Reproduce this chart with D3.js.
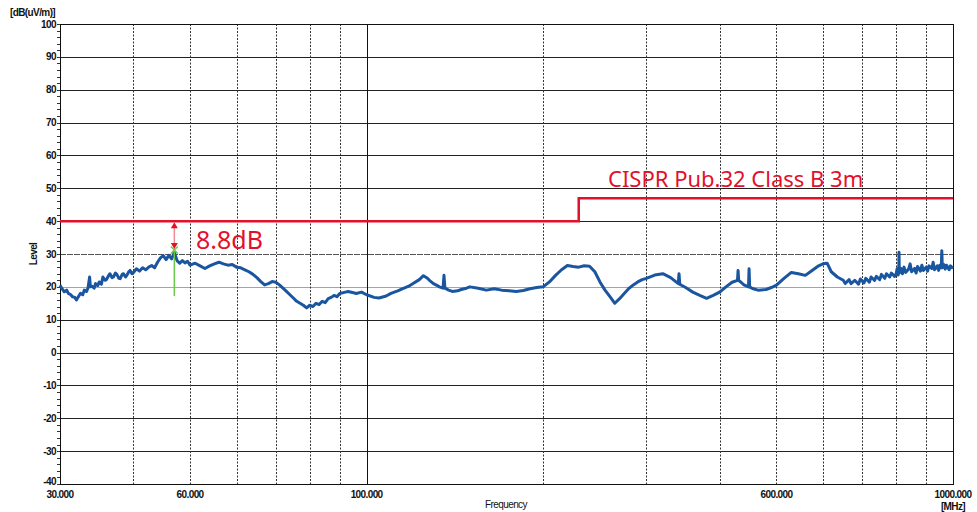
<!DOCTYPE html>
<html>
<head>
<meta charset="utf-8">
<script src="https://cdn.jsdelivr.net/npm/d3@7"></script>
<style>
  body { margin: 0; background: #fff; }
  svg { display: block; }
  .tick-label { font-family: "Liberation Sans", Arial, sans-serif; font-size: 10px; font-weight: bold; fill: #111; letter-spacing: -0.6px; }
</style>
</head>
<body>
<script>
const traceReadings = [
  [30, 20.5], [30.3, 19.2], [30.5, 18.5], [30.8, 19.0], [31, 18.0], [31.3, 17.6], [31.5, 17.0], [31.8, 16.8],
  [32, 16.0], [32.3, 17.2], [32.5, 18.0], [32.8, 17.6], [33, 19.0], [33.3, 18.6], [33.5, 19.8], [33.7, 23.0],
  [33.8, 20.0], [34, 20.2], [34.3, 19.6], [34.5, 21.0], [34.8, 20.4], [35, 21.5], [35.3, 20.8], [35.5, 23.0],
  [35.8, 22.0], [36, 22.2], [36.3, 23.4], [36.5, 24.0], [36.8, 22.8], [37, 23.0], [37.3, 24.2], [37.5, 23.8],
  [37.8, 22.6], [38, 22.5], [38.3, 23.8], [38.5, 24.0], [38.8, 23.0], [39, 23.5], [39.3, 24.6], [39.5, 25.0],
  [39.8, 24.0], [40, 24.3], [40.5, 25.5], [41, 24.8], [41.5, 25.8], [42, 25.2], [42.5, 26.0], [43, 26.5],
  [43.5, 25.8], [44, 27.5], [44.5, 28.8], [45, 29.5], [45.5, 28.3], [46, 29.6], [46.5, 28.5], [47, 30.5],
  [47.5, 28.0], [48, 27.2], [48.5, 28.0], [49, 27.3], [49.5, 27.8], [50, 26.6], [51, 27.2], [52, 26.4],
  [53, 25.6], [54, 26.4], [55, 27.0], [56, 27.5], [57, 27.0], [58, 26.6], [59, 26.8], [60, 26.0],
  [61, 25.8], [62, 25.2], [63, 24.6], [64, 23.8], [65, 22.8], [66, 21.6], [67, 20.6], [68, 21.0],
  [69, 21.6], [70, 21.4], [71, 20.6], [72, 19.6], [73, 18.6], [74, 17.6], [75, 16.6], [76, 15.6],
  [77, 15.0], [78, 14.4], [79, 13.6], [80, 14.4], [81, 14.0], [82, 15.0], [83, 14.6], [84, 15.6],
  [85, 15.2], [86, 16.4], [87, 16.8], [88, 17.4], [89, 17.0], [90, 18.0], [92, 18.4], [93, 18.6],
  [95, 18.2], [96, 18.0], [98, 18.4], [100, 17.6], [103, 16.8], [105, 16.6], [108, 17.2], [110, 18.0],
  [113, 18.8], [115, 19.4], [118, 20.2], [120, 21.0], [123, 22.2], [125, 23.4], [127, 22.6], [128, 22.0],
  [130, 21.0], [132, 20.4], [133, 20.0], [135, 19.6], [135.5, 23.5], [136, 19.6], [138, 19.0], [140, 18.6],
  [143, 18.8], [145, 19.2], [148, 19.6], [150, 20.0], [155, 19.6], [160, 19.0], [165, 19.4], [170, 19.0],
  [175, 18.8], [180, 18.6], [185, 18.9], [190, 19.4], [195, 19.8], [200, 20.0], [205, 21.5], [210, 23.5],
  [215, 25.2], [220, 26.5], [225, 26.2], [230, 26.0], [235, 26.4], [240, 26.3], [245, 24.6], [250, 21.5],
  [255, 19.0], [260, 17.0], [265, 15.0], [270, 16.4], [275, 18.0], [280, 19.5], [285, 20.6], [290, 21.5],
  [295, 22.2], [300, 22.6], [310, 23.6], [320, 24.0], [330, 22.8], [340, 21.0], [341, 24.0], [342, 20.8],
  [345, 20.4], [350, 19.8], [360, 18.4], [370, 17.4], [380, 16.5], [390, 17.4], [400, 18.4], [410, 20.0],
  [420, 21.4], [429, 22.0], [430, 25.0], [431, 22.0], [435, 21.4], [440, 20.6], [448, 20.0], [449, 25.5],
  [450, 20.0], [455, 19.5], [465, 19.0], [480, 19.2], [490, 19.8], [500, 20.5], [515, 22.6], [530, 24.4],
  [545, 24.0], [560, 23.5], [575, 25.0], [590, 26.4], [600, 27.0], [610, 27.2], [620, 24.6], [635, 23.0],
  [650, 22.0], [655, 21.0], [665, 22.2], [670, 21.0], [680, 22.0], [690, 20.8], [695, 22.4], [705, 21.2],
  [710, 22.6], [720, 21.4], [725, 23.0], [735, 22.0], [740, 23.2], [750, 22.2], [755, 23.8], [765, 22.6],
  [770, 24.0], [780, 23.0], [785, 24.2], [795, 23.2], [800, 24.0], [803, 25.5], [806, 23.6], [808, 24.2],
  [809, 30.5], [810, 24.2], [815, 25.6], [820, 24.0], [825, 26.0], [830, 24.4], [840, 25.4], [845, 27.0],
  [850, 24.6], [860, 25.6], [865, 24.2], [870, 26.2], [880, 24.8], [885, 26.6], [890, 25.0], [900, 26.0],
  [905, 24.8], [910, 26.4], [920, 25.6], [925, 27.5], [930, 25.2], [940, 26.4], [945, 25.0], [950, 26.6],
  [955, 25.8], [957, 31.0], [959, 25.8], [965, 26.8], [970, 25.4], [975, 26.6], [985, 25.2], [990, 26.4],
  [1000, 25.6]
];

// limit line: CISPR Pub.32 Class B 3m
const limitFreqs = [30, 230, 230, 1000];
const limitLevels = [40, 40, 47, 47];
const limitName = "CISPR Pub.32 Class B 3m";

// peak marker
const markerFreq = 47;
const markerLevel = 31.2;
const markerLow = 17.2;
const margin = 8.8;

// axis ticks
const yTicks = [-40, -30, -20, -10, 0, 10, 20, 30, 40, 50, 60, 70, 80, 90, 100];
const xGrid = [40, 50, 60, 70, 80, 90, 100, 200, 300, 400, 500, 600, 700, 800, 900];
const xLabelFreqs = [30, 50, 100, 500, 1000];
const xLabels = ["30.000", "60.000", "100.000", "600.000", "1000.000"];

const width = 977, height = 512;
const plotLeft = 60, plotRight = 953, plotTop = 24, plotBottom = 484;

const svg = d3.create("svg")
  .attr("width", width)
  .attr("height", height)
  .attr("viewBox", `0 0 ${width} ${height}`);

const x = d3.scaleLog().domain([30, 1000]).range([plotLeft, plotRight]);
const y = d3.scaleLinear().domain([-40, 100]).range([plotBottom, plotTop]);

// horizontal grid
svg.append("g")
  .selectAll("line")
  .data(yTicks)
  .join("line")
  .attr("x1", plotLeft).attr("x2", plotRight)
  .attr("y1", d => Math.round(y(d)) + 0.5).attr("y2", d => Math.round(y(d)) + 0.5)
  .attr("stroke", d => d === 20 ? "#93a7bd" : (d === 30 ? "#555" : "#222"))
  .attr("stroke-dasharray", d => d === 30 ? "6,1" : null)
  .attr("stroke-width", 1);

// vertical grid
svg.append("g")
  .selectAll("line")
  .data(xGrid)
  .join("line")
  .attr("x1", d => Math.round(x(d)) + 0.5).attr("x2", d => Math.round(x(d)) + 0.5)
  .attr("y1", plotTop).attr("y2", plotBottom)
  .attr("stroke", d => d === 100 ? "#111" : "#333")
  .attr("stroke-dasharray", d => d === 100 ? null : "2,1.5")
  .attr("stroke-width", 1);

// frame
svg.append("rect")
  .attr("x", plotLeft + 0.5).attr("y", plotTop + 0.5)
  .attr("width", plotRight - plotLeft).attr("height", plotBottom - plotTop)
  .attr("fill", "none").attr("stroke", "#111").attr("stroke-width", 1);

// minor y ticks on the left axis
svg.append("g")
  .selectAll("line")
  .data(d3.range(-40, 101, 2))
  .join("line")
  .attr("x1", plotLeft - 3).attr("x2", plotLeft)
  .attr("y1", d => Math.round(y(d)) + 0.5).attr("y2", d => Math.round(y(d)) + 0.5)
  .attr("stroke", "#333");

// y labels
svg.append("g")
  .selectAll("text")
  .data(yTicks)
  .join("text")
  .attr("class", "tick-label")
  .attr("x", plotLeft - 4)
  .attr("y", d => y(d) + (d === -40 ? 1 : 3.5))
  .attr("text-anchor", "end")
  .text(d => d);

svg.append("text")
  .attr("class", "tick-label")
  .attr("x", 10).attr("y", 16)
  .text("[dB(uV/m)]");

svg.append("text")
  .attr("class", "tick-label")
  .attr("transform", `translate(37,${y(30)}) rotate(-90)`)
  .attr("text-anchor", "middle")
  .text("Level");

// x labels
svg.append("g")
  .selectAll("text")
  .data(xLabelFreqs)
  .join("text")
  .attr("class", "tick-label")
  .attr("x", d => x(d))
  .attr("y", 498)
  .attr("text-anchor", "middle")
  .text((d, i) => xLabels[i]);

svg.append("text")
  .attr("class", "tick-label")
  .attr("x", plotRight).attr("y", 510)
  .attr("text-anchor", "middle")
  .text("[MHz]");

svg.append("text")
  .attr("class", "tick-label")
  .attr("x", 506).attr("y", 508)
  .attr("text-anchor", "middle")
  .style("font-weight", "normal")
  .text("Frequency");

// limit line
const limitData = limitFreqs.map((f, i) => ({f, v: limitLevels[i]}));
svg.append("path")
  .datum(limitData)
  .attr("fill", "none")
  .attr("stroke", "#e3102a")
  .attr("stroke-width", 2.5)
  .attr("d", d3.line().x(d => x(d.f)).y(d => y(d.v)));

svg.append("text")
  .attr("x", 608).attr("y", 187)
  .attr("fill", "#e3102a")
  .style("font-family", "'Noto Sans', 'Open Sans', sans-serif")
  .style("font-size", "22px")
  .text(limitName);

// measured trace
svg.append("path")
  .datum(traceReadings)
  .attr("fill", "none")
  .attr("stroke", "#1a55a0")
  .attr("stroke-width", 3)
  .attr("stroke-linejoin", "round")
  .attr("d", d3.line().x(d => x(d[0])).y(d => y(d[1])));

// marker
const mx = x(markerFreq);
svg.append("line")
  .attr("x1", mx).attr("x2", mx)
  .attr("y1", y(markerLevel)).attr("y2", y(markerLow))
  .attr("stroke", "#6cc84a").attr("stroke-width", 1.5);

const xs = 3.5;
svg.append("path")
  .attr("d", `M${mx - xs},${y(markerLevel) - xs}L${mx + xs},${y(markerLevel) + xs}M${mx - xs},${y(markerLevel) + xs}L${mx + xs},${y(markerLevel) - xs}`)
  .attr("stroke", "#6cc84a").attr("stroke-width", 1.3);

const yLim = y(markerLevel + margin), yMk = y(markerLevel);
svg.append("line")
  .attr("x1", mx).attr("x2", mx)
  .attr("y1", yLim + 4).attr("y2", yMk - 4)
  .attr("stroke", "#f08a96").attr("stroke-width", 1.5);
svg.append("path")
  .attr("d", `M${mx},${yLim + 1}L${mx - 3.5},${yLim + 7}L${mx + 3.5},${yLim + 7}Z M${mx},${yMk - 1}L${mx - 3.5},${yMk - 7}L${mx + 3.5},${yMk - 7}Z`)
  .attr("fill", "#e3102a");

svg.append("text")
  .attr("x", 196).attr("y", 249)
  .attr("fill", "#e3102a")
  .style("font-family", "'Noto Sans', 'Open Sans', sans-serif")
  .style("font-size", "25px")
  .text(`${margin}dB`);

document.body.append(svg.node());
</script>
</body>
</html>
